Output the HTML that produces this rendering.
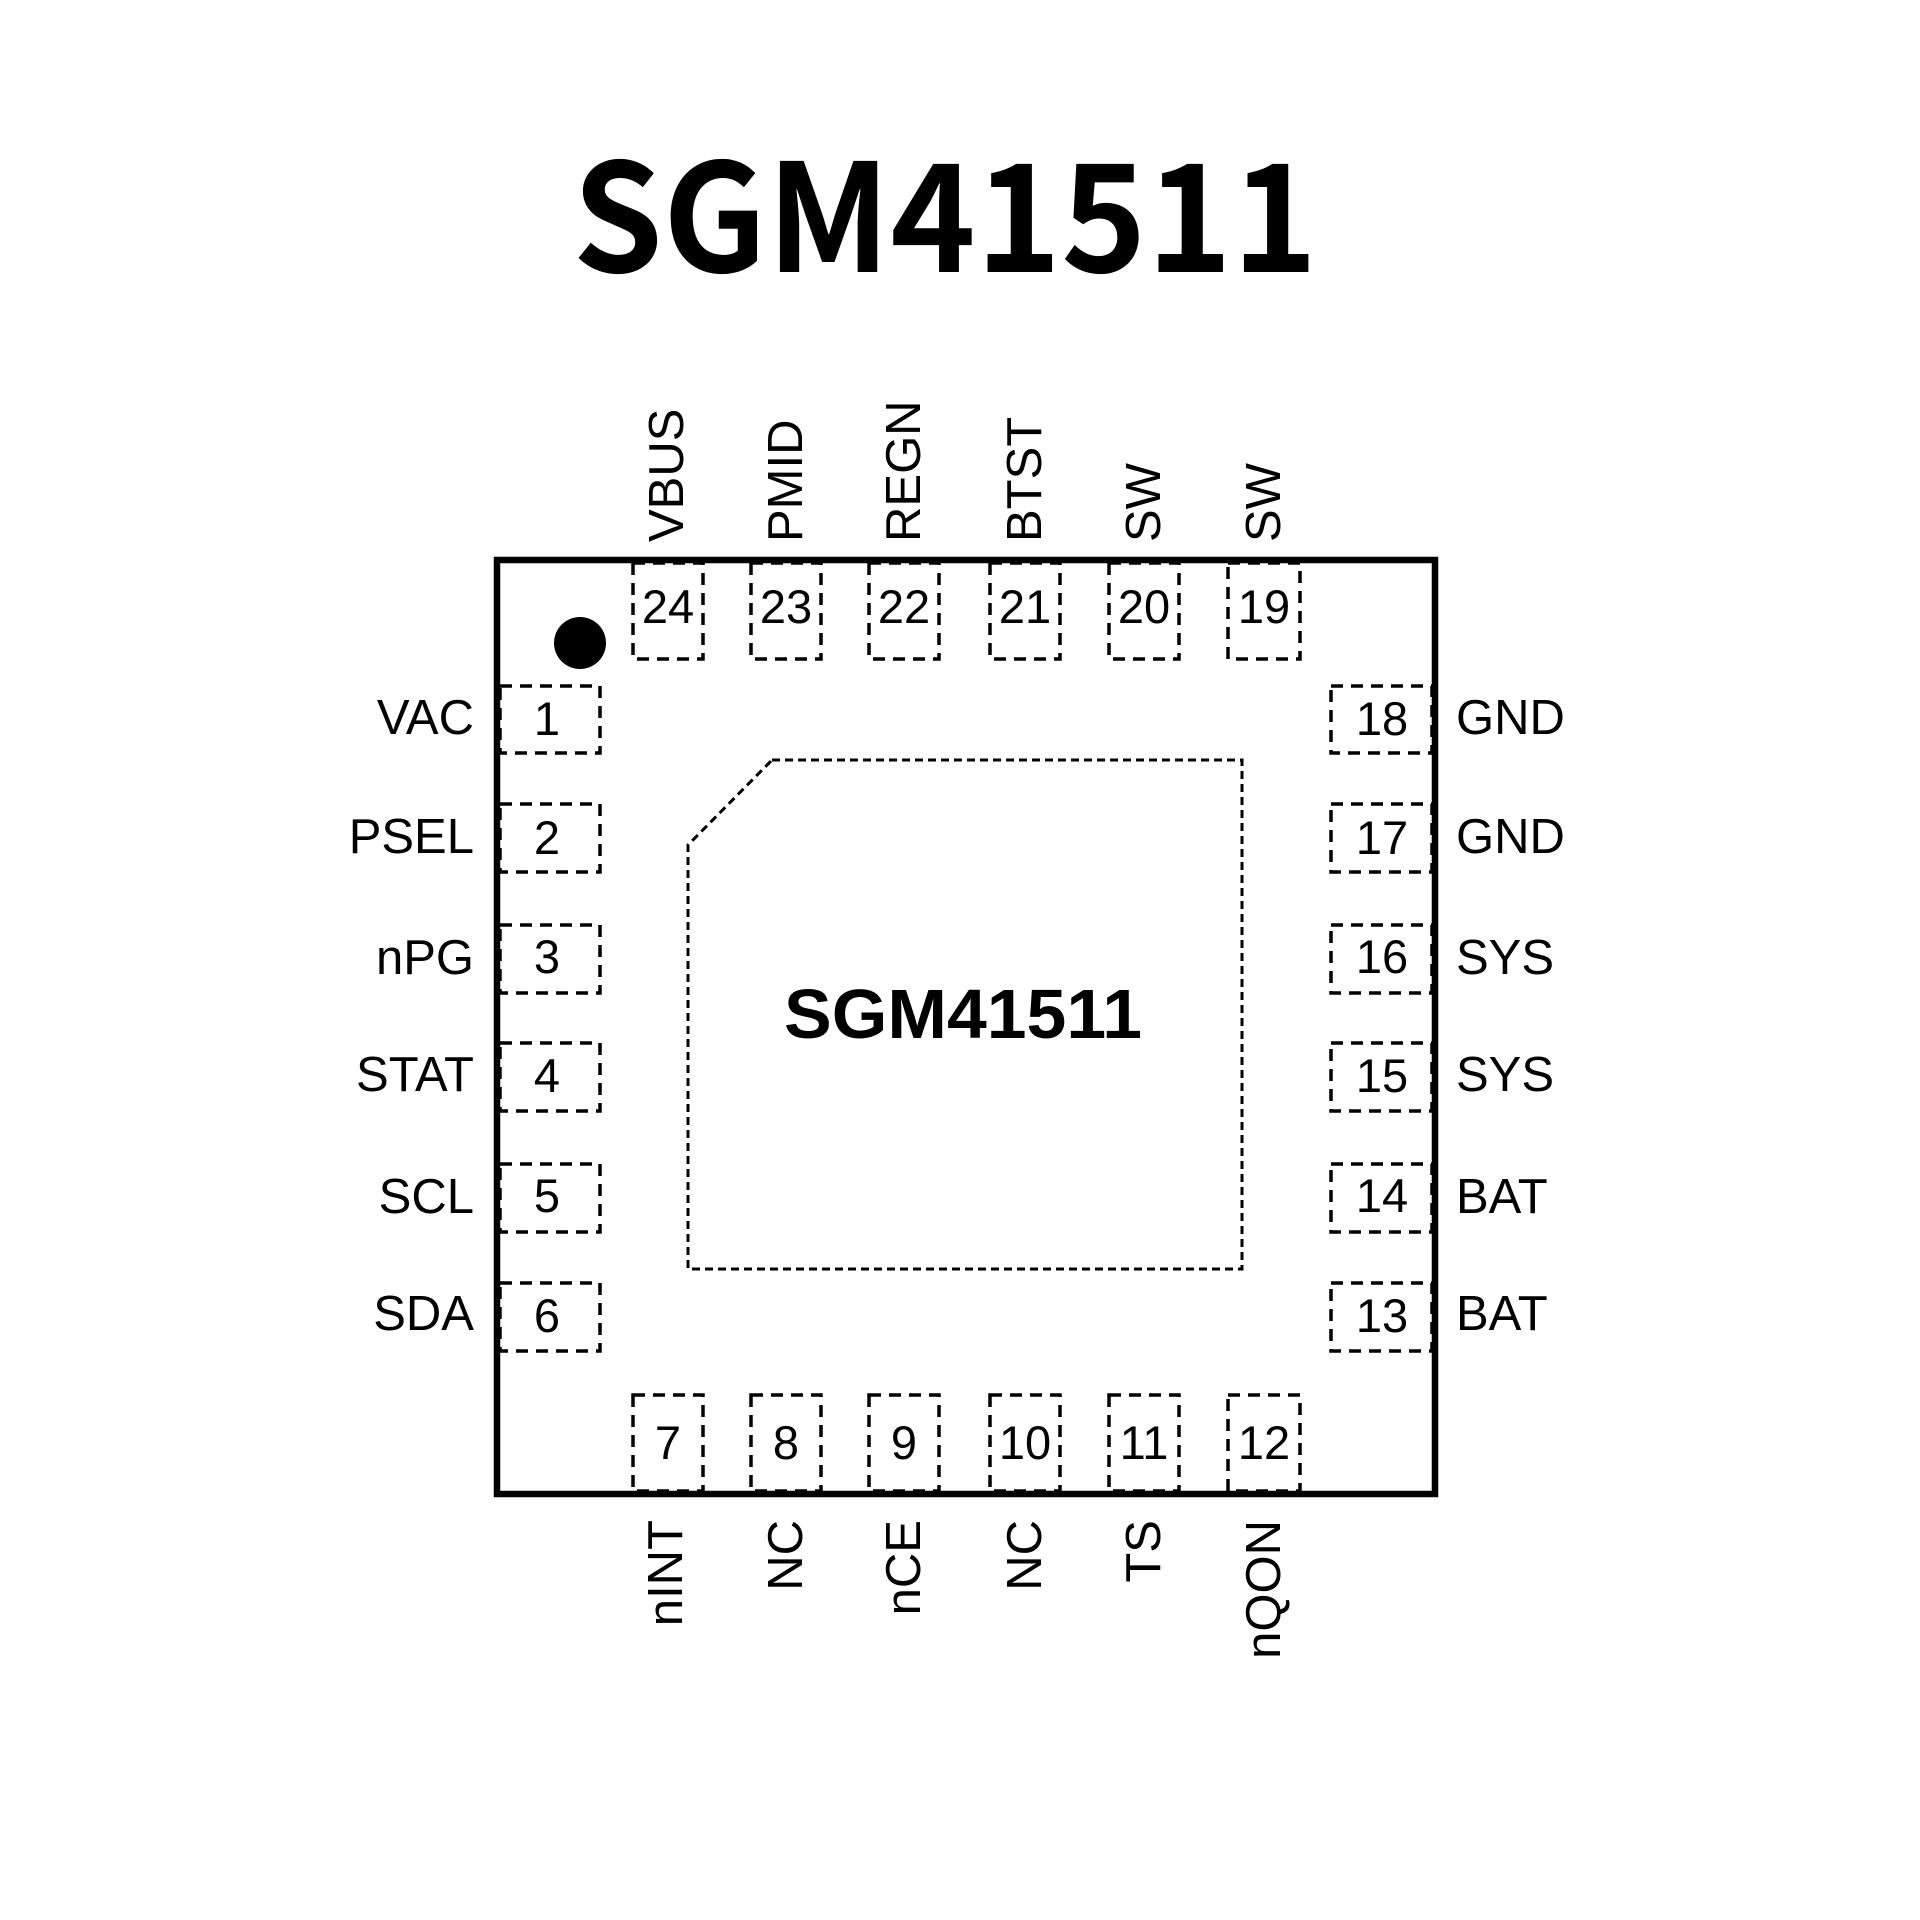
<!DOCTYPE html>
<html><head><meta charset="utf-8"><style>html,body{margin:0;padding:0;background:#fff;}svg{display:block;}</style></head>
<body>
<svg width="1920" height="1920" viewBox="0 0 1920 1920" xmlns="http://www.w3.org/2000/svg" font-family="Liberation Sans, Arial, sans-serif">
<rect width="1920" height="1920" fill="#fff"/>
<text x="945" y="272" font-size="150" font-weight="bold" text-anchor="middle" textLength="745" lengthAdjust="spacingAndGlyphs" font-family="Noto Sans CJK SC, Liberation Sans, sans-serif">SGM41511</text>
<rect x="497" y="560" width="938" height="934" fill="none" stroke="#000" stroke-width="6.5"/>
<circle cx="580" cy="643" r="26" fill="#000"/>
<path d="M772 760 L1242 760 L1242 1269 L688 1269 L688 845 Z" fill="none" stroke="#000" stroke-width="3" stroke-dasharray="8,5"/>
<text x="963" y="1038" font-size="70" font-weight="bold" text-anchor="middle" textLength="358" lengthAdjust="spacingAndGlyphs">SGM41511</text>
<g fill="none" stroke="#000" stroke-width="3.5" stroke-dasharray="12,8">
<rect x="633" y="563" width="70" height="96"/><rect x="751" y="563" width="70" height="96"/><rect x="869" y="563" width="70" height="96"/><rect x="990" y="563" width="70" height="96"/><rect x="1109" y="563" width="70" height="96"/><rect x="1228" y="563" width="72" height="96"/>
<rect x="633" y="1395" width="70" height="96"/><rect x="751" y="1395" width="70" height="96"/><rect x="869" y="1395" width="70" height="96"/><rect x="990" y="1395" width="70" height="96"/><rect x="1109" y="1395" width="70" height="96"/><rect x="1228" y="1395" width="72" height="96"/>
<rect x="500" y="686" width="100" height="67"/><rect x="500" y="804" width="100" height="68"/><rect x="500" y="925" width="100" height="68"/><rect x="500" y="1043" width="100" height="68"/><rect x="500" y="1164" width="100" height="68"/><rect x="500" y="1283" width="100" height="68"/>
<rect x="1331" y="686" width="101" height="67"/><rect x="1331" y="804" width="101" height="68"/><rect x="1331" y="925" width="101" height="68"/><rect x="1331" y="1043" width="101" height="68"/><rect x="1331" y="1164" width="101" height="68"/><rect x="1331" y="1283" width="101" height="68"/>
</g>
<g font-size="47" text-anchor="middle" fill="#000">
<text x="668" y="623">24</text><text x="786" y="623">23</text><text x="904" y="623">22</text><text x="1025" y="623">21</text><text x="1144" y="623">20</text><text x="1264" y="623">19</text>
<text x="668" y="1459">7</text><text x="786" y="1459">8</text><text x="904" y="1459">9</text><text x="1025" y="1459">10</text><text x="1144" y="1459">11</text><text x="1264" y="1459">12</text>
<text x="547" y="735">1</text><text x="547" y="854">2</text><text x="547" y="973">3</text><text x="547" y="1092">4</text><text x="547" y="1212">5</text><text x="547" y="1332">6</text>
<text x="1382" y="735">18</text><text x="1382" y="854">17</text><text x="1382" y="973">16</text><text x="1382" y="1092">15</text><text x="1382" y="1212">14</text><text x="1382" y="1332">13</text>
</g>
<g font-size="49" fill="#000">
<g text-anchor="end">
<text x="474" y="734">VAC</text><text x="474" y="853">PSEL</text><text x="474" y="974">nPG</text><text x="474" y="1091">STAT</text><text x="474" y="1213">SCL</text><text x="474" y="1330">SDA</text>
</g>
<text x="1456" y="734">GND</text><text x="1456" y="853">GND</text><text x="1456" y="974">SYS</text><text x="1456" y="1091">SYS</text><text x="1456" y="1213">BAT</text><text x="1456" y="1330">BAT</text>
<text transform="translate(683,542) rotate(-90)">VBUS</text>
<text transform="translate(802,542) rotate(-90)">PMID</text>
<text transform="translate(920,542) rotate(-90)">REGN</text>
<text transform="translate(1041,542) rotate(-90)">BTST</text>
<text transform="translate(1160,542) rotate(-90)">SW</text>
<text transform="translate(1280,542) rotate(-90)">SW</text>
<g text-anchor="end">
<text transform="translate(682,1520) rotate(-90)">nINT</text>
<text transform="translate(802,1520) rotate(-90)">NC</text>
<text transform="translate(920,1520) rotate(-90)">nCE</text>
<text transform="translate(1041,1520) rotate(-90)">NC</text>
<text transform="translate(1160,1520) rotate(-90)">TS</text>
<text transform="translate(1280,1520) rotate(-90)">nQON</text>
</g>
</g>
</svg>
</body></html>
